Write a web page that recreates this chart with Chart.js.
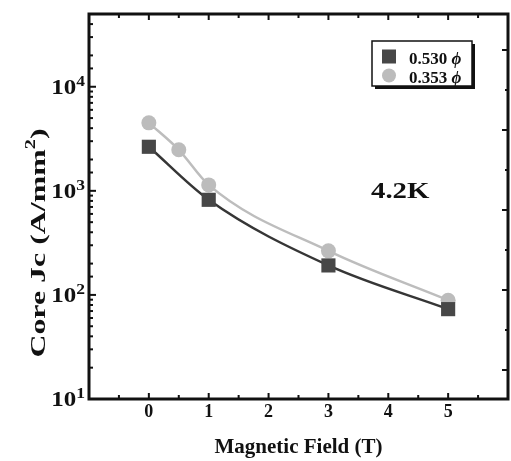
<!DOCTYPE html>
<html>
<head>
<meta charset="utf-8">
<script src="https://cdn.jsdelivr.net/npm/chart.js@4.4.1/dist/chart.umd.min.js"></script>
<style>
  html, body { margin: 0; padding: 0; background: #fff; }
  #wrap { width: 511px; height: 461px; }
</style>
</head>
<body>
<div id="wrap"><canvas id="jc_chart" width="511" height="461"></canvas></div>
<script>
// values
const fieldSquare = [0, 1, 3, 5];
const jcSquare = [2650, 820, 192, 73];
const fieldCircle = [0, 0.5, 1, 3, 5];
const jcCircle = [4500, 2480, 1140, 265, 89];

const seriesLabels = ['0.530', '0.353'];
const xTickLabels = [0, 1, 2, 3, 4, 5];
const yTickPowers = [1, 2, 3, 4];

const colors = Object.freeze({
    DARK: '#474747',
    DARK_LINE: '#363636',
    LIGHT: '#bcbcbc',
    LIGHT_LINE: '#bdbdbd',
    INK: '#111',
});

const serif = '"Liberation Serif", "Times New Roman", serif';

function toPoints(xs, ys){
    return xs.map((x, i) => ({ x: x, y: ys[i] }));
}

// draws text squeezed/stretched along its baseline
function stretchedText(ctx, text, x, y, font, sx){
    ctx.save();
    ctx.font = font;
    ctx.translate(x, y);
    ctx.scale(sx, 1);
    ctx.fillText(text, 0, 0);
    ctx.restore();
}

const framePlugin = {
    id: 'frame',
    afterDatasetsDraw(chart){
        const ctx = chart.ctx;
        const area = chart.chartArea;
        const xs = chart.scales.x;
        const ys = chart.scales.y;
        const y2 = chart.scales.y2;

        ctx.save();
        ctx.strokeStyle = colors.INK;
        ctx.lineWidth = 2;
        ctx.lineCap = 'butt';

        // x ticks, bottom and top, pointing in
        xs.ticks.forEach(t => {
            if (t.value <= xs.min || t.value >= xs.max) return;
            const px = xs.getPixelForValue(t.value);
            const len = Number.isInteger(t.value) ? 6 : 4;
            ctx.beginPath();
            ctx.moveTo(px, area.bottom);
            ctx.lineTo(px, area.bottom - len);
            ctx.moveTo(px, area.top);
            ctx.lineTo(px, area.top + len);
            ctx.stroke();
        });

        // log ticks on the left
        ys.ticks.forEach(t => {
            if (t.value <= ys.min || t.value >= ys.max) return;
            const py = ys.getPixelForValue(t.value);
            const lg = Math.log10(t.value);
            const major = Math.abs(lg - Math.round(lg)) < 1e-9;
            ctx.beginPath();
            ctx.moveTo(area.left, py);
            ctx.lineTo(area.left + (major ? 7 : 4), py);
            ctx.stroke();
        });

        // the right axis has its own evenly spaced ticks
        y2.ticks.forEach(t => {
            const half = t.value * 2;
            if (Math.abs(half - Math.round(half)) > 1e-6) return;
            const py = y2.getPixelForValue(t.value);
            const major = Math.abs(t.value - Math.round(t.value)) < 1e-6;
            ctx.beginPath();
            ctx.moveTo(area.right, py);
            ctx.lineTo(area.right - (major ? 6 : 3), py);
            ctx.stroke();
        });

        ctx.lineWidth = 3;
        ctx.strokeRect(area.left, area.top, area.right - area.left, area.bottom - area.top);
        ctx.restore();
    },
    afterDraw(chart){
        const ctx = chart.ctx;
        const area = chart.chartArea;
        const ys = chart.scales.y;

        ctx.save();
        ctx.fillStyle = colors.INK;
        ctx.textBaseline = 'alphabetic';

        // y tick labels: 10 with a raised power
        yTickPowers.forEach(p => {
            const py = ys.getPixelForValue(Math.pow(10, p));
            const baseFont = 'bold 20px ' + serif;
            const supFont = 'bold 14px ' + serif;
            const sx = 1.25;
            ctx.font = baseFont;
            const wBase = ctx.measureText('10').width * sx;
            ctx.font = supFont;
            const wSup = ctx.measureText(String(p)).width * sx;
            const right = area.left - 4;
            stretchedText(ctx, '10', right - wBase - wSup, py + 7, baseFont, sx);
            stretchedText(ctx, String(p), right - wSup, py - 1, supFont, sx);
        });

        // y axis title, rotated
        ctx.save();
        ctx.translate(38, 243);
        ctx.rotate(-Math.PI / 2);
        const titleFont = 'bold 22px ' + serif;
        const sxTitle = 1.45;
        ctx.font = titleFont;
        const main = 'Core Jc (A/mm';
        const wMain = ctx.measureText(main).width * sxTitle;
        ctx.font = 'bold 14px ' + serif;
        const wTwo = ctx.measureText('2').width * sxTitle;
        ctx.font = titleFont;
        const wClose = ctx.measureText(')').width * sxTitle;
        const start = -(wMain + wTwo + wClose) / 2;
        stretchedText(ctx, main, start, 7, titleFont, sxTitle);
        stretchedText(ctx, '2', start + wMain, -3, 'bold 14px ' + serif, sxTitle);
        stretchedText(ctx, ')', start + wMain + wTwo, 7, titleFont, sxTitle);
        ctx.restore();

        // temperature note
        stretchedText(ctx, '4.2K', area.left + 282, area.top + 184, 'bold 24px ' + serif, 1.2);

        // legend box with drop shadow
        const box = { x: area.left + 283, y: area.top + 27, w: 100, h: 45 };
        ctx.fillStyle = colors.INK;
        ctx.fillRect(box.x + 3, box.y + 3, box.w, box.h);
        ctx.fillStyle = '#fff';
        ctx.fillRect(box.x, box.y, box.w, box.h);
        ctx.strokeStyle = colors.INK;
        ctx.lineWidth = 1.5;
        ctx.strokeRect(box.x, box.y, box.w, box.h);

        chart.data.datasets.forEach((ds, i) => {
            const cy = box.y + 15.5 + i * 19;
            const cx = box.x + 17;
            ctx.fillStyle = ds.backgroundColor;
            if (ds.pointStyle === 'rect') {
                ctx.fillRect(cx - 7, cy - 7, 14, 14);
            } else {
                ctx.beginPath();
                ctx.arc(cx, cy, 7, 0, Math.PI * 2);
                ctx.fill();
            }
            ctx.fillStyle = colors.INK;
            ctx.font = 'bold 17px ' + serif;
            const label = ds.label + ' ';
            ctx.fillText(label, box.x + 37, cy + 7);
            const w = ctx.measureText(label).width;
            ctx.font = 'italic bold 17px ' + serif;
            ctx.fillText('\u03D5', box.x + 37 + w, cy + 7);
        });
        ctx.restore();
    }
};

new Chart(document.getElementById('jc_chart'), {
    type: 'scatter',
    data: {
        datasets: [{
            label: seriesLabels[0],
            data: toPoints(fieldSquare, jcSquare),
            showLine: true,
            borderColor: colors.DARK_LINE,
            borderWidth: 2.5,
            backgroundColor: colors.DARK,
            pointStyle: 'rect',
            pointRadius: 10,
            pointBorderWidth: 0,
            cubicInterpolationMode: 'monotone',
        }, {
            label: seriesLabels[1],
            data: toPoints(fieldCircle, jcCircle),
            showLine: true,
            borderColor: colors.LIGHT_LINE,
            borderWidth: 2.5,
            backgroundColor: colors.LIGHT,
            pointStyle: 'circle',
            pointRadius: 7.5,
            pointBorderWidth: 0,
            cubicInterpolationMode: 'monotone',
        }]
    },
    options: {
        responsive: false,
        animation: false,
        events: [],
        layout: { autoPadding: false, padding: { top: 14, left: 0, right: 0, bottom: 0 } },
        plugins: {
            legend: { display: false },
            tooltip: { enabled: false },
        },
        scales: {
            x: {
                type: 'linear',
                position: 'bottom',
                min: -1,
                max: 6,
                grid: { display: false, drawTicks: false },
                border: { display: false },
                ticks: {
                    stepSize: 0.5,
                    autoSkip: false,
                    maxRotation: 0,
                    padding: 3,
                    color: colors.INK,
                    font: { family: serif, size: 18, weight: 'bold' },
                    callback: value => xTickLabels.includes(value) ? String(value) : '',
                },
                title: {
                    display: true,
                    text: 'Magnetic Field (T)',
                    color: colors.INK,
                    font: { family: serif, size: 21, weight: 'bold' },
                    padding: { top: 0, bottom: 1 },
                },
                afterFit: scale => {
                    scale.height = 62;
                    scale.paddingLeft = 0;
                    scale.paddingRight = 0;
                },
            },
            y: {
                type: 'logarithmic',
                position: 'left',
                min: 10,
                max: 50000,
                grid: { display: false, drawTicks: false },
                border: { display: false },
                ticks: { display: false },
                afterFit: scale => { scale.width = 89; },
            },
            y2: {
                type: 'linear',
                position: 'right',
                min: -0.3625,
                max: 4.45,
                grid: { display: false, drawTicks: false },
                border: { display: false },
                ticks: { display: false, stepSize: 0.5 },
                afterFit: scale => { scale.width = 3; },
            },
        },
    },
    plugins: [framePlugin],
});
</script>
</body>
</html>
